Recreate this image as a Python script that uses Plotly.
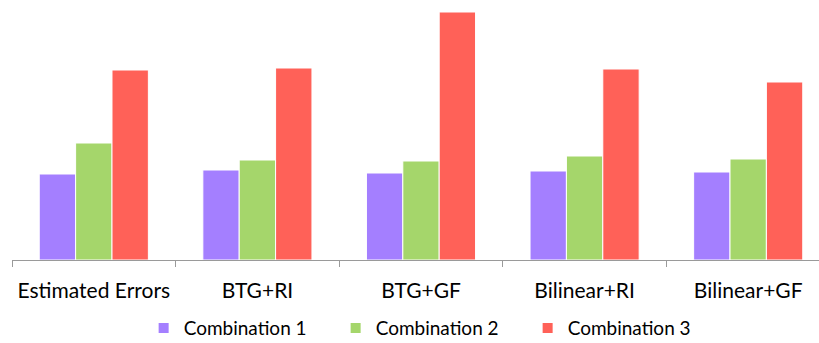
import plotly.graph_objects as go

categories = ["Estimated Errors", "BTG+RI", "BTG+GF", "Bilinear+RI", "Bilinear+GF"]
series_names = ["Combination 1", "Combination 2", "Combination 3"]
combination_1 = [86, 90, 87, 89, 88]
combination_2 = [117, 100, 99, 104, 101]
combination_3 = [190, 192, 248, 191, 178]
series_values = [combination_1, combination_2, combination_3]
colors = ["#A47FFF", "#A5D66B", "#FF6158"]

fig = go.Figure()
for name, vals, col in zip(series_names, series_values, colors):
    fig.add_trace(go.Bar(
        x=categories, y=vals, name=name,
        marker=dict(color=col, line=dict(color="white", width=1)),
    ))

W, H = 819, 343
left, bottom = 12, 83
cat_px = 163.6
plot_w = W - left
fig.update_layout(
    width=W, height=H,
    margin=dict(l=left, r=0, t=0, b=bottom, autoexpand=False),
    paper_bgcolor="white", plot_bgcolor="white",
    barmode="group", bargap=0.333, bargroupgap=0,
    font=dict(family="Lato, Open Sans, sans-serif", color="#000000"),
    xaxis=dict(
        range=[-0.5, -0.5 + plot_w / cat_px],
        showline=True, linecolor="#9A9A9A", linewidth=1,
        ticks="outside", tickson="boundaries", ticklen=6, tickcolor="#9A9A9A",
        tickfont=dict(size=21), ticklabelstandoff=12, tickangle=0,
        automargin=False,
        showgrid=False, zeroline=False,
    ),
    yaxis=dict(range=[0, 260], visible=False, showgrid=False, zeroline=False),
    legend=dict(
        orientation="h", x=0.52, xanchor="center", y=-0.262, yanchor="middle",
        font=dict(size=19), entrywidth=147, itemsizing="constant",
        traceorder="normal",
    ),
)

fig.write_html("out.html")
